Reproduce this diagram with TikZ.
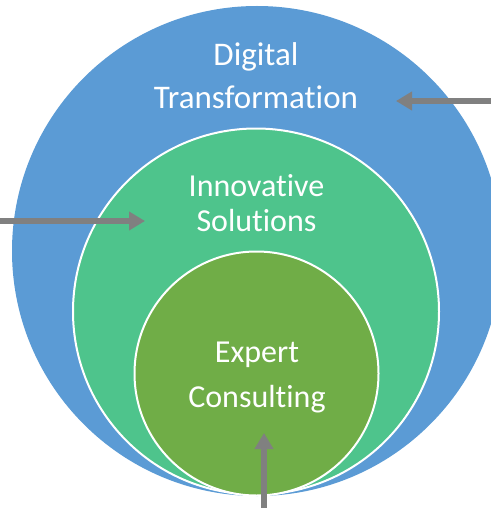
\documentclass[tikz,border=0pt]{standalone}
\usepackage{fontspec}
\setmainfont{Carlito}[Ligatures=NoCommon]
\usepackage{tikz}
\usetikzlibrary{arrows.meta}

\definecolor{ringblue}{RGB}{91,155,213}
\definecolor{ringteal}{RGB}{78,196,140}
\definecolor{ringgreen}{RGB}{112,173,71}
\definecolor{pointer}{RGB}{128,128,128}

\begin{document}
\begin{tikzpicture}[x=0.5pt, y=-0.5pt,
    ring/.style={circle, inner sep=0pt},
    lbl/.style={text=white, align=center},
    pointer/.style={draw=pointer, line width=3pt, -{Triangle[width=9pt, length=8pt]}}]

    \useasboundingbox (0, 0) rectangle (491, 508);
    \clip (0, 0) rectangle (491, 508);

    \node [ring, fill=ringblue, minimum size=245pt] (outer) at (257, 251) {};
    \node [ring, fill=ringteal, draw=white, line width=1pt, minimum size=183pt] (middle) at (256, 311.5) {};
    \node [ring, fill=ringgreen, draw=white, line width=1pt, minimum size=122pt] (inner) at (256.5, 373.5) {};

    \node [lbl, font=\fontsize{16.5}{21.5}\selectfont] (digital) at (256, 76) {Digital\\Transformation};
    \node [lbl, font=\fontsize{16}{17.5}\selectfont] (innov) at (256.5, 203) {Innovative\\Solutions};
    \node [lbl, font=\fontsize{16}{22.5}\selectfont] (expert) at (257, 377) {Expert\\Consulting};

    \coordinate (rfrom) at (491, 101);
    \coordinate (rto) at (396, 101);
    \coordinate (lfrom) at (0, 221);
    \coordinate (lto) at (145, 221);
    \coordinate (bfrom) at (264, 508);
    \coordinate (bto) at (264, 433);

    \draw [pointer] (rfrom) -- (rto);
    \draw [pointer] (lfrom) -- (lto);
    \draw [pointer] (bfrom) -- (bto);

\end{tikzpicture}
\end{document}
